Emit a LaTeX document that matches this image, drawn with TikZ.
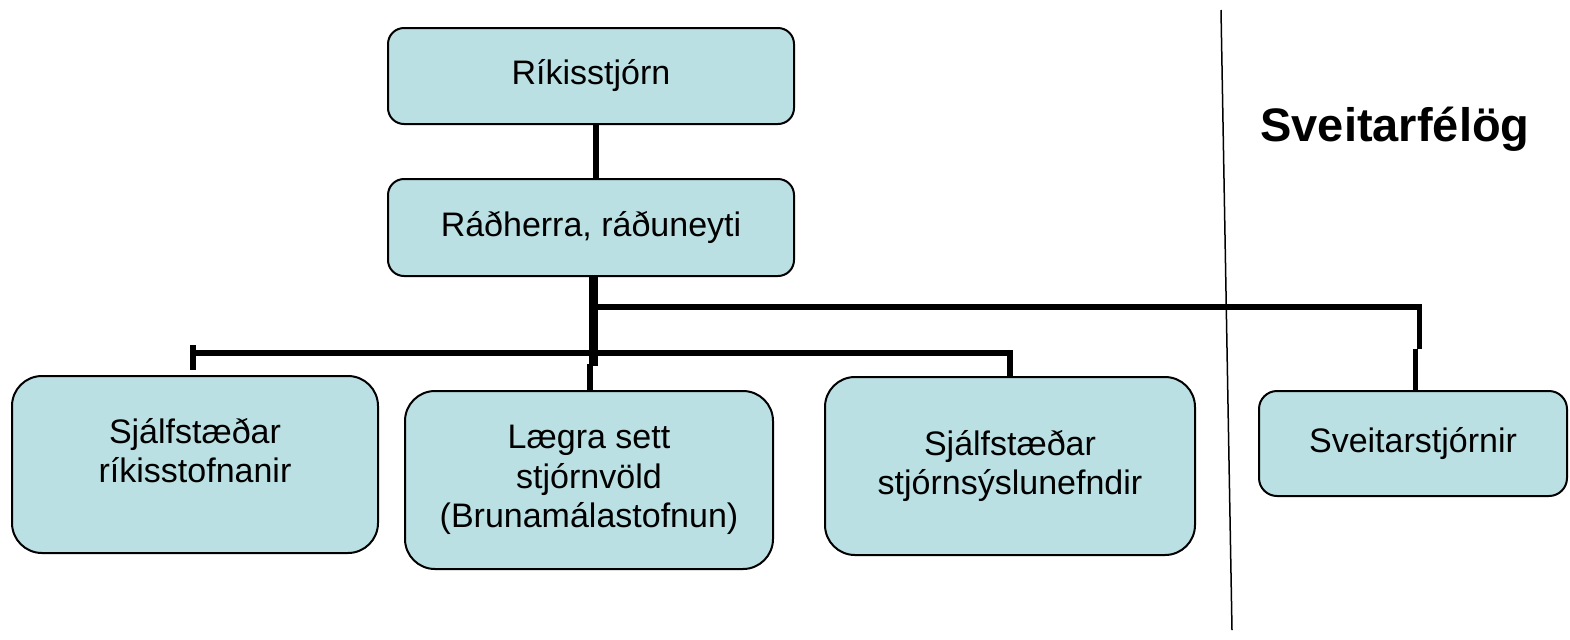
\documentclass[tikz,border=0pt]{standalone}
\usepackage{fontspec}
\setmainfont{Liberation Sans}
\usetikzlibrary{positioning,calc}
\definecolor{boxblue}{HTML}{BBE0E3}

\begin{document}
\begin{tikzpicture}[x=0.5pt,y=-0.5pt,font=\fontsize{17}{19.8}\selectfont]
  \tikzstyle{box}=[draw=black,line width=1pt,fill=boxblue,align=center,inner sep=0pt]
  \tikzstyle{bigbox}=[box,rounded corners=15pt,minimum width=184pt,minimum height=89pt]
  \tikzstyle{link}=[line width=2.75pt]
  \tikzstyle{trunk}=[line width=4.5pt]
  \useasboundingbox (0,0) rectangle (1570,639);

  % top of the hierarchy
  \node [box,rounded corners=8pt,minimum width=203pt,minimum height=48pt] (gov) at (591,76) {Ríkisstjórn};
  \node [box,rounded corners=8pt,minimum width=203pt,minimum height=48.5pt] (min) at (591,227.5) {Ráðherra, ráðuneyti};

  % boxes in the bottom row
  \node [bigbox,minimum width=183pt,minimum height=88.5pt] (inst) at (195,464.5) {};
  \node [align=center] (insttxt) at ([yshift=7pt]inst.center) {Sjálfstæðar\\ríkisstofnanir};
  \node [bigbox] (lower) at (589,480) {Lægra sett\\stjórnvöld\\(Brunamálastofnun)};
  \node [bigbox,minimum width=185pt] (comm) at (1010,466) {Sjálfstæðar\\stjórnsýslunefndir};
  \node [box,rounded corners=9pt,minimum width=154pt,minimum height=52.5pt] (muni) at (1413,443.5) {Sveitarstjórnir};

  % right side
  \node [anchor=base,font=\bfseries\fontsize{23.5}{28}\selectfont] (munlabel) at (1395,141) {Sveitarfélög};
  \coordinate (divtop) at (1221,10);
  \coordinate (divbot) at (1232,630);
  \draw [line width=0.75pt] (divtop) -- (divbot);

  % trunk from the ministry
  \draw [link] ($(gov.south)+(5,0)$) -- ($(min.north)+(5,0)$);
  \draw [trunk] ($(min.south)+(2.5,0)$) -- ($(min.south)+(2.5,89)$);
  \draw [link] ($(lower.north)+(1,-26)$) -- (lower.north -| {$(lower.north)+(1,0)$});

  % branch to the municipalities
  \coordinate (upper) at ($(min.south)+(2.5,30)$);
  \draw [link] (upper) -| ($(muni.north)+(6.5,-41)$);
  \draw [link] ($(muni.north)+(2.5,-41)$) -- ($(muni.north)+(2.5,0)$);

  % branch to the other state bodies
  \draw [link] ($(inst.north)+(-2,-30)$) -- ($(inst.north)+(-2,-5)$);
  \draw [link] ($(inst.north)+(-2,-22)$) -| (comm.north);
\end{tikzpicture}
\end{document}
